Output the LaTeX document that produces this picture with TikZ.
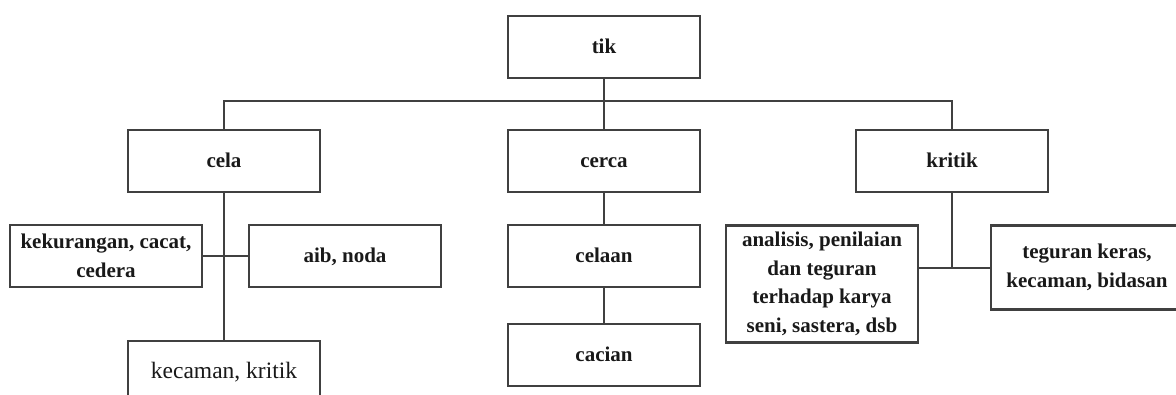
\documentclass[tikz,border=0pt]{standalone}
\usepackage{fontspec}
\setmainfont{Liberation Serif}

\begin{document}
\begin{tikzpicture}[x=1pt, y=-1pt,
        box/.style={draw=black!75, line width=2.4pt, fill=white, minimum width=192pt, minimum height=62pt,
            inner sep=0pt, align=center, text=black!90, font=\fontsize{21}{28.5}\selectfont\bfseries},
        one/.style={text height=16pt, text depth=2.5pt},
        link/.style={draw=black!75, line width=2pt}]
            \useasboundingbox (0,0) rectangle (1176,394);
            \clip (0,0) rectangle (1176,394);

            % akar dan tiga makna
            \node[box, one] (tik) at (604,47) {tik};
            \foreach \name/\x in {cela/224, cerca/604, kritik/952} {
                \node[box, one] (\name) at (\x,161) {\name};
            }
            \draw[link] (tik.south) -- (cerca.north);
            \draw[link] (cela.north) -- ++(0,-28) -| (kritik.north);

            % cabang cela
            \node[box] (kurang) at (106,256) {kekurangan, cacat,\\cedera};
            \node[box, one] (aib) at (345,256) {aib, noda};
            \node[box, one, font=\fontsize{23.5}{28}\selectfont] (kecaman) at (224,372) {kecaman, kritik};
            \draw[link] (cela.south) -- (kecaman.north);
            \draw[link] (kurang.east) -- (aib.west);

            % cabang cerca
            \node[box, one] (celaan) at (604,256) {celaan};
            \node[box, one] (cacian) at (604,355) {cacian};
            \draw[link] (cerca.south) -- (celaan.north);
            \draw[link] (celaan.south) -- (cacian.north);

            % cabang kritik
            \node[box, minimum height=117pt] (analisis) at (822,284)
                {analisis, penilaian\\dan teguran\\terhadap karya\\seni, sastera, dsb};
            \node[box, minimum height=84pt] (teguran) at (1087,267.5) {teguran keras,\\kecaman, bidasan};
            \coordinate (kj) at (kritik.south |- teguran.west);
            \draw[link] (kritik.south) -- (kj);
            \draw[link] (analisis.east |- teguran.west) -- (teguran.west);
        \end{tikzpicture}
\end{document}
